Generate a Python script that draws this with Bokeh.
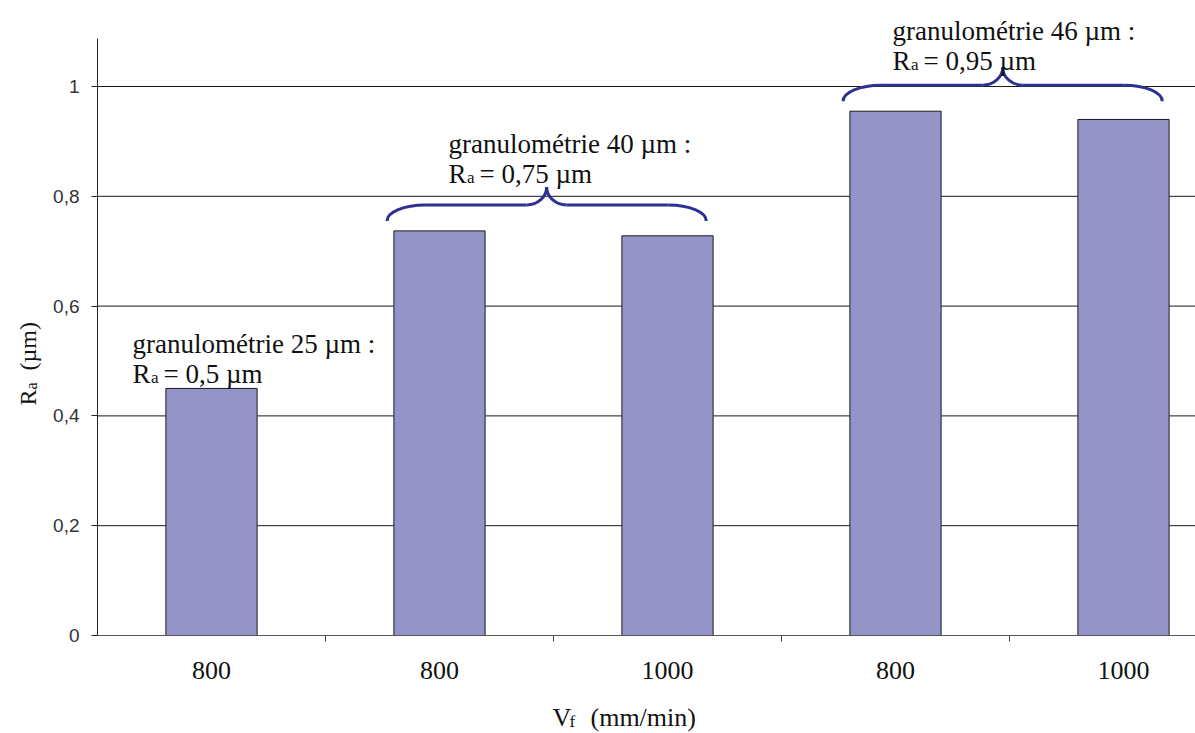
import math
from bokeh.plotting import figure
from bokeh.models import FixedTicker, CustomJSTickFormatter, Label
from bokeh.embed import file_html
from bokeh.resources import INLINE

# ---- data ----
vf_labels = ["800", "800", "1000", "800", "1000"]
ra_values = [0.45, 0.737, 0.728, 0.955, 0.940]
grain_sizes = ["25", "40", "46"]
grain_ra = ["0,5", "0,75", "0,95"]
group_bars = [[0], [1, 2], [3, 4]]
y_ticks = [0, 0.2, 0.4, 0.6, 0.8, 1.0]

# ---- layout (page pixels) ----
W, H = 1195, 733
ORIGIN_X, ORIGIN_Y = 97, 635      # page position of (0, 0)
PX, PY = 228.0, 549.0            # pixels per data unit
X_START = -ORIGIN_X / PX
X_END = (W - ORIGIN_X) / PX
Y_START = -(H - ORIGIN_Y) / PY
Y_END = ORIGIN_Y / PY
Y_AXIS_TOP = (ORIGIN_Y - 38) / PY


def dx(page_x):
    return (page_x - ORIGIN_X) / PX


def dy(page_y):
    return (ORIGIN_Y - page_y) / PY


SERIF = "Liberation Serif"
SANS = "Liberation Sans"
BRACE = "#2E3192"
BAR = "#9494C8"

p = figure(width=W, height=H,
           min_border_left=0, min_border_right=0,
           min_border_top=0, min_border_bottom=0,
           x_range=(X_START, X_END), y_range=(Y_START, Y_END),
           output_backend="svg", toolbar_location=None, tools="")
p.title.visible = False
p.outline_line_color = None
p.background_fill_color = "white"
p.border_fill_color = "white"
p.xgrid.visible = False
p.ygrid.visible = False

centers = [i + 0.5 for i in range(len(ra_values))]

# horizontal grid lines at the y ticks (drawn behind the bars)
p.segment(x0=[0] * (len(y_ticks) - 1), x1=[X_END] * (len(y_ticks) - 1),
          y0=y_ticks[1:], y1=y_ticks[1:], line_color="#1a1a1a", line_width=1)

p.vbar(x=centers, top=ra_values, width=0.4, bottom=0,
       fill_color=BAR, line_color="#1a1a1a", line_width=1)

# x axis at y = 0
xa = p.xaxis[0]
xa.fixed_location = 0
xa.bounds = (0, X_END)
xa.ticker = FixedTicker(ticks=centers, minor_ticks=list(range(1, len(ra_values))))
xa.formatter = CustomJSTickFormatter(args=dict(labels=vf_labels),
                                     code="return labels[Math.floor(tick)];")
xa.major_tick_out = 0
xa.major_tick_in = 0
xa.minor_tick_out = 6
xa.minor_tick_in = 0
xa.minor_tick_line_color = "#444444"
xa.axis_line_color = "#555555"
xa.major_label_text_font = SERIF
xa.major_label_text_font_size = "26px"
xa.major_label_text_color = "#111111"
xa.major_label_standoff = 20

# y axis at x = 0
ya = p.yaxis[0]
ya.fixed_location = 0
ya.bounds = (0, Y_AXIS_TOP)
ya.ticker = FixedTicker(ticks=y_ticks)
ya.formatter = CustomJSTickFormatter(
    code="if (Math.abs(tick) < 1e-9) return '0'; if (Math.abs(tick-1) < 1e-9) return '1'; return tick.toFixed(1).replace('.', ',');")
ya.major_tick_out = 6
ya.major_tick_in = 0
ya.minor_tick_out = 0
ya.minor_tick_in = 0
ya.axis_line_color = "#222222"
ya.major_tick_line_color = "#222222"
ya.major_label_text_font = SANS
ya.major_label_text_font_size = "19px"
ya.major_label_text_color = "#333333"
ya.major_label_standoff = 12


def lab(x, y, text, size, font=SERIF, angle=0.0, color="#111111"):
    p.add_layout(Label(x=x, y=y, text=text, text_font=font,
                       text_font_size=f"{size}px", text_baseline="alphabetic",
                       text_align="left", angle=angle, text_color=color))


# axis titles
lab(dx(552), dy(717), "V", 26)
lab(dx(569), dy(721), "f", 17)
lab(dx(590), dy(717), "(mm/min)", 26)

lab(dx(27), dy(405), "R", 24, angle=math.pi / 2)
lab(dx(31), dy(389), "a", 16, angle=math.pi / 2)
lab(dx(27), dy(370), "(µm)", 24, angle=math.pi / 2)

# annotations (text start, first-line baseline in page px)
ann_pos = [(132, 343), (448, 143), (892, 30)]
for (ax, ay), g, r in zip(ann_pos, grain_sizes, grain_ra):
    lab(dx(ax), dy(ay), f"granulométrie {g} µm :", 27)
    lab(dx(ax), dy(ay + 30), "R", 27)
    lab(dx(ax + 18.5), dy(ay + 34), "a", 17)
    lab(dx(ax + 31), dy(ay + 30), f"= {r} µm", 27)

# braces over multi-bar groups
k = 0.5523
bx0, by0, bx1, by1, bc0x, bc0y, bc1x, bc1y = [], [], [], [], [], [], [], []
sx0, sy0, sx1, sy1 = [], [], [], []
for idx in group_bars:
    if len(idx) < 2:
        continue
    xl = centers[idx[0]] - 0.2 - 0.03
    xr = centers[idx[-1]] + 0.2 - 0.03
    xm = (xl + xr) / 2
    y0 = max(ra_values[i] for i in idx) + 10 / PY
    h1, h2 = 16 / PY, 18 / PY
    r, r2 = 38 / PX, 20 / PX
    yf = y0 + h1
    yt = yf + h2
    # left end corner
    bx0 += [xl]; by0 += [y0]; bx1 += [xl + r]; by1 += [yf]
    bc0x += [xl]; bc0y += [y0 + k * h1]; bc1x += [xl + r - k * r]; bc1y += [yf]
    # right end corner
    bx0 += [xr]; by0 += [y0]; bx1 += [xr - r]; by1 += [yf]
    bc0x += [xr]; bc0y += [y0 + k * h1]; bc1x += [xr - r + k * r]; bc1y += [yf]
    # left tip
    bx0 += [xm - r2]; by0 += [yf]; bx1 += [xm]; by1 += [yt]
    bc0x += [xm - r2 + k * r2]; bc0y += [yf]; bc1x += [xm]; bc1y += [yt - k * h2]
    # right tip
    bx0 += [xm + r2]; by0 += [yf]; bx1 += [xm]; by1 += [yt]
    bc0x += [xm + r2 - k * r2]; bc0y += [yf]; bc1x += [xm]; bc1y += [yt - k * h2]
    # flats
    sx0 += [xl + r, xm + r2]; sy0 += [yf, yf]
    sx1 += [xm - r2, xr - r]; sy1 += [yf, yf]

p.bezier(x0=bx0, y0=by0, x1=bx1, y1=by1, cx0=bc0x, cy0=bc0y, cx1=bc1x, cy1=bc1y,
         line_color=BRACE, line_width=3)
p.segment(x0=sx0, y0=sy0, x1=sx1, y1=sy1, line_color=BRACE, line_width=3)

open("out.html", "w").write(file_html(p, INLINE))
